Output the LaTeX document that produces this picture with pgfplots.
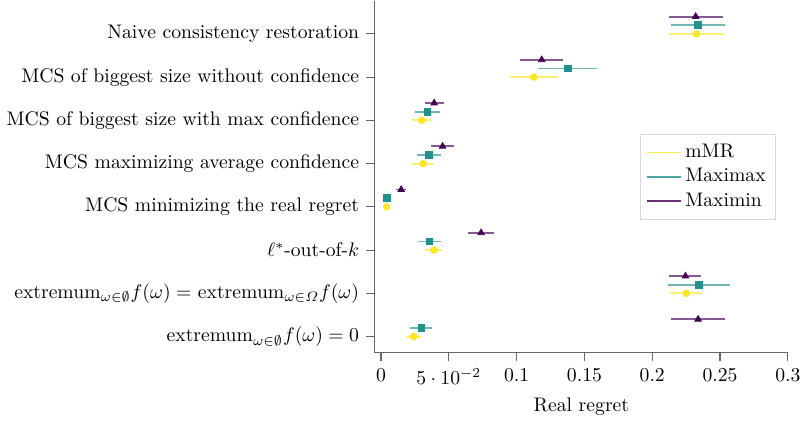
\documentclass[border=0pt]{standalone}
\usepackage{pgfplots}
\usepackage{amsmath}
\pgfplotsset{compat=1.18}
\definecolor{vyel}{HTML}{FDE725}
\definecolor{vteal}{HTML}{21918C}
\definecolor{vpur}{HTML}{440154}
\begin{document}
\begin{tikzpicture}
\begin{axis}[
  width=210pt, height=179pt, scale only axis,
  xmin=-0.0045, xmax=0.3, ymin=-0.37, ymax=7.77,
  axis x line*=bottom, axis y line*=left,
  axis line style={-, gray!80!black, line width=0.6pt},
  tick align=outside, tick style={gray!80!black, line width=0.6pt},
  major tick length=4.5pt,
  xtick={0,0.05,0.1,0.15,0.2,0.25,0.3},
  ytick={0,1,2,3,4,5,6,7},
  yticklabels={
    extremum$_{\omega\in\emptyset}f(\omega)=0$,
    extremum$_{\omega\in\emptyset}f(\omega)=$ extremum$_{\omega\in\varOmega}f(\omega)$,
    $\ell^*$-out-of-$k$,
    MCS minimizing the real regret,
    MCS maximizing average confidence,
    MCS of biggest size with max confidence,
    MCS of biggest size without confidence,
    Naive consistency restoration},
  xlabel={Real regret},
  legend style={at={(0.971,0.621)}, anchor=north east, draw=black!15, font=\normalsize, inner sep=3pt},
  legend cell align=left,
  error bars/error bar style={line width=0.95pt, opacity=0.65},
  error bars/error mark=none,
]
\addlegendimage{vyel, line width=0.9pt, opacity=0.8}
\addlegendentry{mMR}
\addlegendimage{vteal, line width=0.9pt, opacity=0.8}
\addlegendentry{Maximax}
\addlegendimage{vpur, line width=0.9pt, opacity=0.8}
\addlegendentry{Maximin}
\addplot[forget plot, only marks, mark=*, mark size=1.7pt, color=vyel,
  error bars/.cd, x dir=both, x explicit]
  table[x=x, y=y, x error=e] {
x y e
0.0240 0 0.0054
0.2250 1 0.0120
0.0390 2 0.0062
0.0041 3 0
0.0311 4 0.0081
0.0302 5 0.0073
0.1126 6 0.0176
0.2325 7 0.0203
};
\addplot[forget plot, only marks, mark=square*, mark size=1.7pt, color=vteal,
  error bars/.cd, x dir=both, x explicit]
  table[x=x, y=y, x error=e] {
x y e
0.0297 0.2 0.0080
0.2345 1.2 0.0230
0.0358 2.2 0.0081
0.0046 3.2 0
0.0353 4.2 0.0091
0.0343 5.2 0.0090
0.1376 6.2 0.0215
0.2338 7.2 0.0202
};
\addplot[forget plot, only marks, mark=triangle*, mark size=1.9pt, color=vpur,
  error bars/.cd, x dir=both, x explicit]
  table[x=x, y=y, x error=e] {
x y e
0.2338 0.4 0.0202
0.2245 1.4 0.0118
0.0738 2.4 0.0096
0.0149 3.4 0.0038
0.0454 4.4 0.0087
0.0392 5.4 0.0070
0.1185 6.4 0.0160
0.2320 7.4 0.0200
};
\end{axis}
\end{tikzpicture}
\end{document}
